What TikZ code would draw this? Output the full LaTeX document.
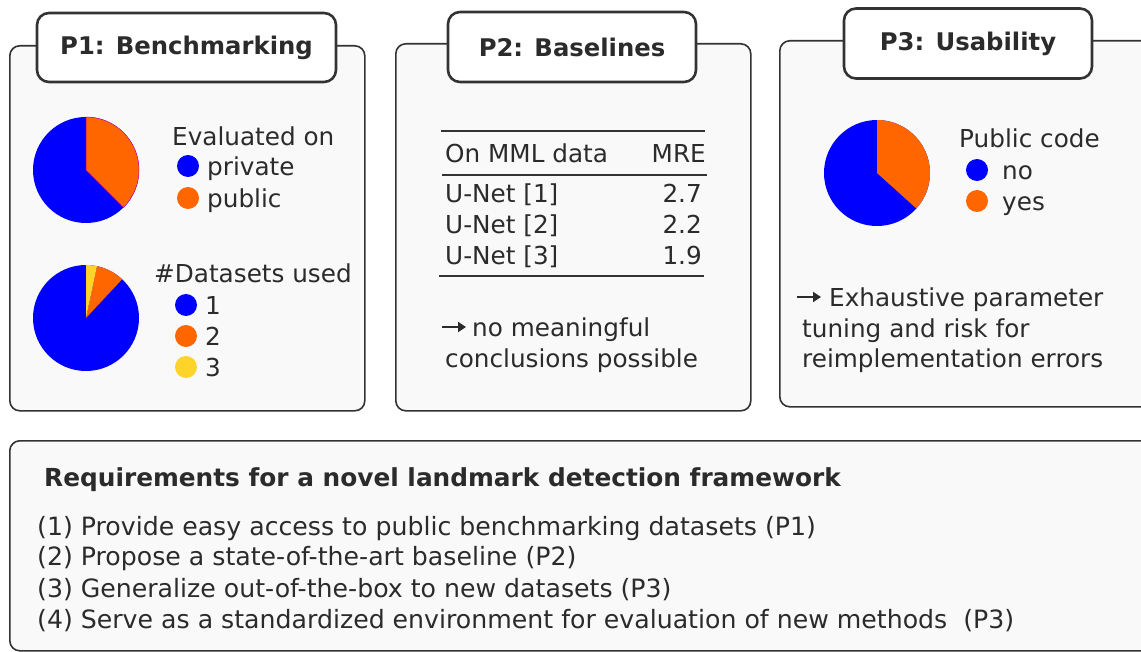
\documentclass[tikz,border=0pt]{standalone}
\usepackage{fontspec}
\setmainfont{DejaVu Sans}
\usetikzlibrary{arrows.meta}
\definecolor{pblue}{HTML}{0000FF}
\definecolor{porange}{HTML}{FF6600}
\definecolor{pyellow}{HTML}{FFD42A}
\definecolor{boxfill}{HTML}{F9F9F9}
\definecolor{edgec}{HTML}{333333}
\definecolor{txt}{HTML}{2B2B2B}
\begin{document}
\begin{tikzpicture}[x=1pt,y=1pt,
  panel/.style={draw=edgec, line width=1.6pt, fill=boxfill, rounded corners=10pt, inner sep=0pt, anchor=north west},
  titlebox/.style={draw=edgec, line width=2.6pt, fill=white, rounded corners=12pt, inner sep=0pt,
    font=\fontsize{24.3}{29}\selectfont\bfseries, text=txt},
  lbl/.style={anchor=base west, inner sep=0pt, text=txt, font=\fontsize{24.7}{29}\selectfont, yshift=-1.5pt},
  lblr/.style={lbl, anchor=base east},
  lblb/.style={anchor=base west, inner sep=0pt, text=txt, font=\fontsize{25.2}{30}\selectfont},
  bold/.style={anchor=base west, inner sep=0pt, text=txt, font=\fontsize{24.8}{29}\selectfont\bfseries},
  dot/.style={circle, inner sep=0pt, minimum size=22pt},
  rule/.style={draw=edgec, line width=1.4pt},
  smallarrow/.style={draw=txt, line width=2pt, -{Triangle[length=8pt,width=10pt]}}
]
\useasboundingbox (0,0) rectangle (1141,-652);

% panels
\node[panel, minimum width=355pt, minimum height=365pt] (p1) at (9,-45) {};
\node[panel, minimum width=355pt, minimum height=367pt] (p2) at (395,-43) {};
\node[panel, minimum width=375pt, minimum height=366pt] (p3) at (779,-40) {};
\node[panel, minimum width=1145pt, minimum height=210pt] (p4) at (9,-440) {};

% title boxes
\node[titlebox, minimum width=299pt, minimum height=69pt] (t1) at (186.5,-47.5) {P1: Benchmarking};
\node[titlebox, minimum width=248pt, minimum height=70pt] (t2) at (572,-47) {P2: Baselines};
\node[titlebox, minimum width=248pt, minimum height=70pt] (t3) at (968,-43.5) {P3: Usability};

% P1 pie 1
\coordinate (c1) at (86,-170);
\fill[pblue] (c1) circle (53);
\filldraw[fill=porange, draw=magenta!80!blue, line width=0.5pt] (c1) -- ++(90:53) arc[start angle=90, end angle=-45, radius=53] -- cycle;
\node[lbl] (ev) at (172,-144) {Evaluated on};
\node[dot, fill=pblue] (d11) at (188,-166) {};
\node[dot, fill=porange] (d12) at (188,-198) {};
\node[lbl] (l11) at (207,-174) {private};
\node[lbl] (l12) at (207,-206) {public};

% P1 pie 2
\coordinate (c2) at (86,-318);
\fill[pblue] (c2) circle (53);
\fill[porange] (c2) -- ++(78:53) arc[start angle=78, end angle=47, radius=53] -- cycle;
\fill[pyellow] (c2) -- ++(90:53) arc[start angle=90, end angle=78, radius=53] -- cycle;
\node[lbl] (ds) at (154,-281) {\#Datasets used};
\node[dot, fill=pblue] (d21) at (186,-305) {};
\node[dot, fill=porange] (d22) at (186,-336) {};
\node[dot, fill=pyellow] (d23) at (186,-367) {};
\node[lbl] (l21) at (205,-313) {1};
\node[lbl] (l22) at (205,-344) {2};
\node[lbl] (l23) at (205,-375) {3};

% P2 table
\coordinate (r1a) at (441,-131); \coordinate (r1b) at (705,-131);
\coordinate (r2a) at (442,-175); \coordinate (r2b) at (707,-175);
\coordinate (r3a) at (439,-276); \coordinate (r3b) at (704,-276);
\draw[rule] (r1a) -- (r1b);
\draw[rule] (r2a) -- (r2b);
\draw[rule] (r3a) -- (r3b);
\node[lbl] (h1) at (445,-161) {On MML data};
\node[lblr] (h2) at (706,-161) {MRE};
\node[lbl] (u1) at (445,-201) {U-Net [1]};
\node[lbl] (u2) at (445,-232) {U-Net [2]};
\node[lbl] (u3) at (445,-263) {U-Net [3]};
\node[lblr] (v1) at (702,-201) {2.7};
\node[lblr] (v2) at (702,-232) {2.2};
\node[lblr] (v3) at (702,-263) {1.9};
\coordinate (ar2a) at (442,-327); \coordinate (ar2b) at (466,-327);
\draw[smallarrow] (ar2a) -- (ar2b);
\node[lbl] (a2) at (472,-335) {no meaningful};
\node[lbl] (a2b) at (445,-366) {conclusions possible};

% P3 pie
\coordinate (c3) at (877,-173);
\fill[pblue] (c3) circle (53);
\fill[porange] (c3) -- ++(90:53) arc[start angle=90, end angle=-42, radius=53] -- cycle;
\node[lbl] (pc) at (959,-146) {Public code};
\node[dot, fill=pblue] (d31) at (977,-170) {};
\node[dot, fill=porange] (d32) at (977,-201) {};
\node[lbl] (l31) at (1002,-178) {no};
\node[lbl] (l32) at (1002,-209) {yes};
\coordinate (ar3a) at (797,-297); \coordinate (ar3b) at (821,-297);
\draw[smallarrow] (ar3a) -- (ar3b);
\node[lbl] (a3) at (829,-305) {Exhaustive parameter};
\node[lbl] (a3b) at (802,-336) {tuning and risk for};
\node[lbl] (a3c) at (802,-366) {reimplementation errors};

% bottom
\node[bold] (req) at (44,-486) {Requirements for a novel landmark detection framework};
\node[lblb] (q1) at (37,-535) {(1) Provide easy access to public benchmarking datasets (P1)};
\node[lblb] (q2) at (37,-565) {(2) Propose a state-of-the-art baseline (P2)};
\node[lblb] (q3) at (37,-597) {(3) Generalize out-of-the-box to new datasets (P3)};
\node[lblb] (q4) at (37,-628) {(4) Serve as a standardized environment for evaluation of new methods~ (P3)};
\end{tikzpicture}
\end{document}
